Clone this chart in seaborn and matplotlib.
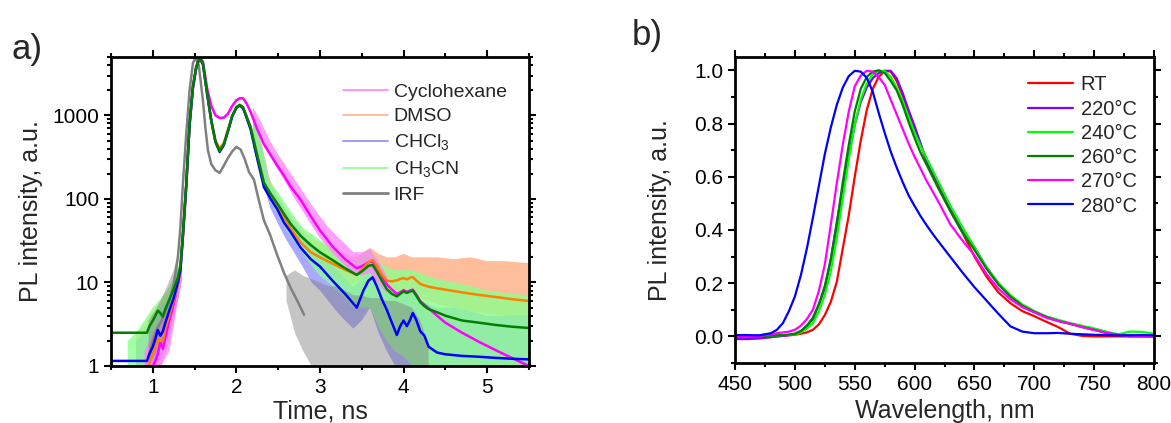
import numpy as np
import matplotlib
matplotlib.use("Agg")
import matplotlib.pyplot as plt
import matplotlib.ticker as ticker
from matplotlib.lines import Line2D
import seaborn as sns

sns.set_theme(style="ticks")
plt.rcParams['font.family'] = ['Liberation Sans', 'DejaVu Sans']
plt.rcParams['mathtext.default'] = 'regular'

nan = np.nan

# ---------------- panel a) time-resolved PL ----------------
t_fit = [0.50, 0.93, 0.96, 1.00, 1.03, 1.06, 1.09, 1.12, 1.15, 1.20,
         1.25, 1.30, 1.33, 1.36, 1.40, 1.44, 1.48, 1.52, 1.56, 1.60,
         1.65, 1.70, 1.75, 1.80, 1.85, 1.90, 1.95, 2.00, 2.04, 2.08,
         2.12, 2.17, 2.25, 2.33, 2.41, 2.49, 2.57, 2.65, 2.77, 2.89,
         3.00, 3.15, 3.30, 3.44, 3.52, 3.58, 3.63, 3.68, 3.74, 3.80,
         3.86, 3.92, 3.96, 4.00, 4.04, 4.08, 4.11, 4.15, 4.20, 4.25,
         4.30, 4.40, 4.50, 4.70, 4.90, 5.10, 5.30, 5.50]

fit_cyclohexane = [0.5, 0.6, 0.8, 1.0, 1.15, 1.4, 1.9, 1.6, 2.2, 3.6,
                   5.5, 9.5, 14, 35, 140, 750, 2100, 3700, 4900, 4400,
                   2100, 1300, 1000, 930, 940, 1050, 1300, 1520, 1600, 1600,
                   1400, 1100, 680, 450, 335, 250, 190, 140, 97, 62,
                   42, 27, 19, 14.8, 16, 17.5, 17.8, 15.5, 12, 9.5,
                   8.2, 7.3, 7.6, 8.1, 7.7, 8.0, 8.2, 7.2, 6.0, 5.4,
                   4.9, 4.0, 3.3, 2.5, 1.95, 1.55, 1.24, 1.0]
fit_dmso = [0.8, 0.9, 1.1, 1.4, 1.7, 2.1, 2.0, 2.0, 2.8, 4.2,
            6.0, 9.5, 14, 36, 145, 790, 2200, 3800, 4900, 4100,
            1850, 880, 500, 400, 470, 680, 990, 1250, 1330, 1240,
            980, 720, 330, 150, 112, 85, 60, 44, 30, 23,
            20, 16.8, 14.2, 12.3, 15, 17.5, 18.6, 16, 12.5, 10.5,
            10.3, 10.6, 11.0, 11.3, 10.9, 11.4, 11.6, 10.6, 9.6, 9.2,
            8.9, 8.5, 8.2, 7.6, 7.1, 6.7, 6.3, 6.0]
fit_chcl3 = [1.15, 1.15, 1.4, 1.7, 2.1, 2.7, 2.3, 2.6, 3.3, 4.7,
             6.5, 10, 14, 36, 145, 790, 2200, 3800, 4900, 4100,
             1820, 860, 480, 365, 440, 650, 970, 1230, 1310, 1220,
             950, 680, 300, 138, 100, 75, 52, 40, 26, 19,
             15.5, 10.5, 7.3, 5.0, 8.0, 10.5, 11.5, 9.0, 6.3, 4.7,
             3.3, 2.35, 3.0, 3.5, 3.0, 3.6, 4.3, 3.6, 2.6, 2.3,
             1.7, 1.45, 1.38, 1.32, 1.29, 1.25, 1.22, 1.2]
fit_ch3cn = [2.5, 2.5, 3.0, 3.5, 4.0, 4.6, 4.3, 3.9, 4.8, 6.3,
             8.3, 11.5, 16, 38, 150, 800, 2200, 3800, 4900, 4100,
             1800, 850, 480, 375, 450, 660, 980, 1250, 1340, 1250,
             980, 720, 330, 155, 115, 88, 66, 50, 36, 28,
             23, 18.5, 14.8, 12.3, 14, 15.8, 16.2, 13.5, 10.5, 8.3,
             7.3, 6.8, 7.3, 7.8, 7.5, 7.8, 8.0, 7.0, 5.8, 5.2,
             4.8, 4.4, 4.0, 3.5, 3.3, 3.1, 2.95, 2.85]

# envelope of the noisy raw decays (nan = gap where noise is hidden by the fit)
t_band = [0.70, 0.80, 0.90, 1.00, 1.10, 1.20, 1.30, 1.35, 1.80, 2.20,
          2.30, 2.40, 2.50, 2.60, 2.70, 2.80, 2.90, 3.00, 3.10, 3.20,
          3.30, 3.40, 3.50, 3.60, 3.70, 3.80, 3.90, 4.00, 4.10, 4.20,
          4.40, 4.60, 4.80, 5.00, 5.20, 5.50]
cyc_lo = [nan, nan, 1, 1, 1, 1.5, 6, 11, nan, 850,
          560, 330, 220, 150, 100, 70, 48, 34, 26, 20,
          16, 12.5, 12, 13, 9.5, 7.5, nan, nan, nan, nan,
          nan, nan, nan, nan, nan, nan]
cyc_hi = [nan, nan, 1.5, 2.5, 3.5, 5, 12, 16, nan, 1250,
          820, 500, 340, 240, 170, 120, 85, 62, 46, 36,
          29, 23, 23, 25, 18, 12, nan, nan, nan, nan,
          nan, nan, nan, nan, nan, nan]
dmso_lo = [nan, 1, 1, 1, 1, 2, 6, 11, nan, 500,
           280, 110, 70, 45, 32, 23, 17, 15, 13, 12,
           10.5, 9.5, 11, 13, 8.5, 7, 7, 7, 7, 6.5,
           5.5, 5, 4.5, 4.2, 4, 3.8]
dmso_hi = [nan, 2.5, 3, 4.5, 6, 8, 13, 18, nan, 900,
           480, 170, 110, 75, 55, 42, 34, 30, 26, 24,
           22, 20, 22, 26, 22, 20, 20, 22, 20, 20,
           20, 19, 20, 18, 18, 17]
chcl3_lo = [nan, 1, 1, 1, 1.2, 2.5, 6, 11, nan, 420,
            200, 80, 50, 32, 22, 15, 10, 8, 6, 4.5,
            3.5, 2.8, 3.5, 5, 2.5, 1.5, 1, 1, 1, 1,
            1, 1, 1, 1, 1, 1]
chcl3_hi = [nan, 2, 2.5, 3.5, 5, 7, 13, 18, nan, 850,
            420, 150, 100, 70, 50, 38, 28, 22, 18, 14,
            11, 9, 11, 14, 10, 8, 7, 8, 8, 6,
            5, 5, 4.5, 4, 4, 4]
ch3cn_lo = [1, 1, 1, 1.5, 1.5, 3, 7, 12, nan, 450,
            250, 95, 65, 42, 30, 22, 16, 12, 10, 8,
            6.5, 5, 5, 5, 3, 2, 1.5, 1.3, 1, 1,
            1, 1, 1, 1, 1, 1]
ch3cn_hi = [2, 2.5, 3.5, 5, 6.5, 9, 15, 20, nan, 950,
            450, 160, 120, 85, 60, 45, 38, 32, 28, 24,
            20, 18, 20, 24, 18, 15, 14, 14, 14, 13,
            11, 10, 9, 8, 7.5, 7]

t_irf = [0.95, 1.00, 1.05, 1.10, 1.15, 1.20, 1.25, 1.30, 1.33, 1.36,
         1.40, 1.44, 1.48, 1.51, 1.55, 1.60, 1.63, 1.66, 1.70, 1.75,
         1.80, 1.85, 1.90, 1.95, 2.00, 2.05, 2.10, 2.15, 2.21, 2.27,
         2.33, 2.40, 2.49, 2.57, 2.65, 2.73, 2.81]
irf = [1.3, 2.0, 2.8, 3.4, 4.5, 6.0, 9.5, 20, 45, 150,
       600, 2000, 4200, 4900, 4000, 1500, 700, 380, 260, 220,
       205, 250, 310, 370, 420, 390, 300, 210, 170, 95,
       55, 38, 21, 13, 8.6, 6, 4.1]
t_irf_band = [0.95, 1.05, 1.15, 1.25, 1.30, 1.80, 2.60, 2.70, 2.80, 2.90,
              3.00, 3.10, 3.20, 3.30, 3.40, 3.50, 3.60, 3.70, 3.80, 3.90,
              4.00, 4.10, 4.20, 4.30]
irf_lo = [1, 1.5, 2, 5, 12, nan, 6, 2.5, 1.5, 1,
          1, 1, 1, 1, 1, 1, 1, 1, 1, 1,
          1, 1, 1, 1]
irf_hi = [3.5, 5, 8, 14, 22, nan, 12, 14, 12, 11,
          10, 9, 9, 8, 7, 7, 6.5, 6.5, 6, 6,
          5.5, 5, 3.5, 1.8]

solvents = ["Cyclohexane", "DMSO", "CHCl$_3$", "CH$_3$CN", "IRF"]

# ---------------- panel b) PL spectra ----------------
wl = [450, 460, 470, 480, 485, 490, 495, 500, 505, 510,
      515, 520, 525, 530, 535, 540, 545, 550, 555, 560,
      565, 570, 575, 580, 585, 590, 595, 600, 605, 610,
      615, 620, 630, 640, 650, 660, 670, 680, 690, 700,
      710, 720, 730, 740, 750, 760, 770, 780, 790, 800]
pl_rt = [-0.005, -0.005, -0.005, -0.002, 0.0, 0.002, 0.004, 0.006, 0.01, 0.015,
         0.025, 0.045, 0.08, 0.13, 0.205, 0.33, 0.455, 0.6, 0.735, 0.85,
         0.93, 0.975, 0.998, 0.995, 0.96, 0.905, 0.84, 0.78, 0.72, 0.66,
         0.61, 0.56, 0.47, 0.39, 0.3, 0.225, 0.165, 0.125, 0.095, 0.076,
         0.055, 0.035, 0.01, 0.002, 0.0, 0.0, 0.0, 0.0, 0.0, 0.0]
pl_220 = [-0.01, -0.01, -0.008, -0.003, 0.0, 0.002, 0.005, 0.01, 0.02, 0.04,
          0.07, 0.12, 0.18, 0.29, 0.43, 0.56, 0.68, 0.795, 0.88, 0.935,
          0.97, 0.99, 0.998, 0.998, 0.97, 0.915, 0.85, 0.79, 0.725, 0.66,
          0.615, 0.575, 0.485, 0.405, 0.335, 0.26, 0.2, 0.152, 0.118, 0.094,
          0.074, 0.06, 0.048, 0.036, 0.026, 0.015, 0.006, 0.003, 0.002, 0.0]
pl_240 = [0.0, 0.0, 0.001, 0.003, 0.004, 0.005, 0.006, 0.008, 0.015, 0.03,
          0.05, 0.095, 0.155, 0.245, 0.37, 0.52, 0.665, 0.795, 0.89, 0.95,
          0.985, 0.998, 0.997, 0.975, 0.935, 0.885, 0.825, 0.765, 0.715, 0.67,
          0.625, 0.58, 0.49, 0.41, 0.335, 0.26, 0.2, 0.155, 0.12, 0.095,
          0.075, 0.062, 0.05, 0.04, 0.03, 0.018, 0.008, 0.018, 0.017, 0.01]
pl_260 = [0.0, 0.0, 0.001, 0.003, 0.004, 0.005, 0.007, 0.01, 0.02, 0.04,
          0.065, 0.12, 0.19, 0.29, 0.42, 0.58, 0.72, 0.845, 0.93, 0.975,
          0.995, 1.0, 0.99, 0.96, 0.925, 0.87, 0.805, 0.745, 0.69, 0.645,
          0.6, 0.555, 0.47, 0.39, 0.325, 0.255, 0.195, 0.15, 0.115, 0.092,
          0.073, 0.058, 0.047, 0.035, 0.025, 0.013, 0.005, 0.002, 0.001, 0.0]
pl_270 = [0.0, 0.0, 0.002, 0.008, 0.012, 0.015, 0.018, 0.025, 0.04, 0.065,
          0.1, 0.17, 0.27, 0.42, 0.575, 0.72, 0.845, 0.94, 0.98, 0.998,
          0.995, 0.975, 0.945, 0.89, 0.835, 0.78, 0.725, 0.675, 0.63, 0.585,
          0.545, 0.505, 0.42, 0.36, 0.305, 0.235, 0.18, 0.14, 0.11, 0.09,
          0.07, 0.057, 0.048, 0.035, 0.024, 0.014, 0.006, 0.0, 0.0, 0.002]
pl_280 = [0.005, 0.005, 0.004, 0.012, 0.025, 0.05, 0.095, 0.15, 0.23, 0.33,
          0.445, 0.565, 0.685, 0.785, 0.87, 0.935, 0.978, 0.998, 0.995, 0.972,
          0.92, 0.84, 0.765, 0.695, 0.635, 0.58, 0.53, 0.49, 0.452, 0.418,
          0.386, 0.356, 0.298, 0.24, 0.185, 0.135, 0.085, 0.038, 0.018, 0.012,
          0.012, 0.013, 0.01, 0.008, 0.006, 0.005, 0.004, 0.004, 0.005, 0.004]
temps = ["RT", "220°C", "240°C", "260°C", "270°C", "280°C"]

fig = plt.figure(figsize=(11.71, 4.23), dpi=100)
ax1 = fig.add_axes([0.0948, 0.1348, 0.3569, 0.7305])
ax2 = fig.add_axes([0.6277, 0.1418, 0.3578, 0.7235])

# raw noisy data as envelopes
raw_cols = ['#FF80FF', '#FFB38A', '#8C8CFF', '#8CFF8C']
ax1.fill_between(t_band, dmso_lo, dmso_hi, color=raw_cols[1], alpha=0.85, lw=0)
ax1.fill_between(t_band, chcl3_lo, chcl3_hi, color=raw_cols[2], alpha=0.75, lw=0)
ax1.fill_between(t_band, ch3cn_lo, ch3cn_hi, color=raw_cols[3], alpha=0.8, lw=0)
ax1.fill_between(t_band, cyc_lo, cyc_hi, color=raw_cols[0], alpha=0.75, lw=0)
ax1.fill_between(t_irf_band, irf_lo, irf_hi, color='#808080', alpha=0.45, lw=0)
sns.lineplot(x=t_irf, y=irf, ax=ax1, color='#808080', lw=1.8, estimator=None, sort=False)

fits = [(fit_cyclohexane, '#FF00FF'), (fit_dmso, '#FF8000'),
        (fit_chcl3, '#0000FF'), (fit_ch3cn, '#008000')]
for vals, col in fits:
    sns.lineplot(x=t_fit, y=vals, ax=ax1, color=col, lw=1.8, estimator=None, sort=False)

ax1.set_yscale('log')
ax1.set_xlim(0.5, 5.5)
ax1.set_ylim(1, 5000)
ax1.xaxis.set_major_locator(ticker.MultipleLocator(1))
ax1.xaxis.set_minor_locator(ticker.MultipleLocator(0.5))
ax1.yaxis.set_major_locator(ticker.FixedLocator([1, 10, 100, 1000]))
ax1.yaxis.set_major_formatter(ticker.FuncFormatter(lambda v, p: f"{v:g}"))
ax1.yaxis.set_minor_locator(ticker.LogLocator(subs=np.arange(2, 10)))
ax1.yaxis.set_minor_formatter(ticker.NullFormatter())
ax1.set_xlabel("Time, ns", fontsize=18, labelpad=2)
ax1.set_ylabel("PL intensity, a.u.", fontsize=18, labelpad=7)

handles = [Line2D([], [], color=c, lw=1.2) for c in raw_cols]
handles.append(Line2D([], [], color='#808080', lw=2))
ax1.legend(handles, solvents, loc='upper left', bbox_to_anchor=(0.555, 0.915),
           frameon=False, fontsize=14, handlelength=2.3, handletextpad=0.3,
           labelspacing=0.36, borderaxespad=0, borderpad=0)

# spectra
spec = [(pl_rt, '#FF0000'), (pl_220, '#8000FF'), (pl_240, '#00FF00'),
        (pl_260, '#008000'), (pl_270, '#FF00FF'), (pl_280, '#0000FF')]
for (vals, col), lab in zip(spec, temps):
    sns.lineplot(x=wl, y=vals, ax=ax2, color=col, lw=1.6, estimator=None,
                 sort=False, label=lab)

ax2.set_xlim(450, 800)
ax2.set_ylim(-0.1, 1.05)
ax2.xaxis.set_major_locator(ticker.MultipleLocator(50))
ax2.xaxis.set_minor_locator(ticker.MultipleLocator(25))
ax2.yaxis.set_major_locator(ticker.FixedLocator([0, 0.2, 0.4, 0.6, 0.8, 1.0]))
ax2.yaxis.set_major_formatter(ticker.FormatStrFormatter('%.1f'))
ax2.yaxis.set_minor_locator(ticker.MultipleLocator(0.1))
ax2.set_xlabel("Wavelength, nm", fontsize=18, labelpad=4)
ax2.set_ylabel("PL intensity, a.u.", fontsize=18, labelpad=16)
ax2.legend(loc='upper left', bbox_to_anchor=(0.70, 0.94), frameon=False,
           fontsize=14.5, handlelength=2.2, handletextpad=0.4,
           labelspacing=0.26, borderaxespad=0, borderpad=0)

for ax in (ax1, ax2):
    for s in ax.spines.values():
        s.set_linewidth(2)
        s.set_color('black')
    ax.tick_params(which='both', direction='out', top=True, right=True,
                   labeltop=False, labelright=False, colors='black',
                   labelsize=15, width=1.5)
    ax.tick_params(which='major', length=5)
    ax.tick_params(which='minor', length=3)

fig.text(0.023, 0.882, "a)", fontsize=25, ha='center', va='center')
fig.text(0.553, 0.917, "b)", fontsize=25, ha='center', va='center')

fig.savefig("out.png", dpi=100)
